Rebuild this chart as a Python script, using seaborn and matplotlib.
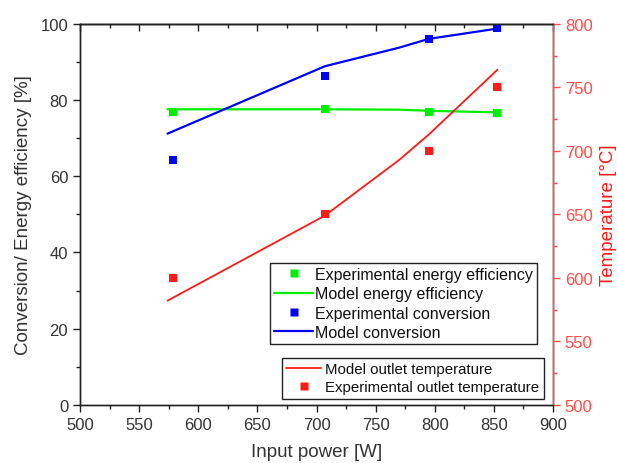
import matplotlib
matplotlib.use("Agg")
import matplotlib.pyplot as plt
from matplotlib.lines import Line2D
from matplotlib.ticker import MultipleLocator
import seaborn as sns
import pandas as pd

# Measured points
power_exp = [579, 707, 795, 853]
eff_exp = [76.8, 77.6, 76.9, 76.7]
conv_exp = [64.3, 86.3, 96.0, 98.9]
temp_exp = [600, 650, 700, 750]

# Model curves
power_model = [574, 707, 770, 795, 853]
eff_model = [77.6, 77.6, 77.5, 77.2, 76.8]
conv_model = [71.2, 88.9, 93.8, 96.1, 98.8]
temp_model = [582, 649, 693, 713, 764]

sns.set_style("ticks")
plt.rcParams["font.family"] = ["Liberation Sans", "DejaVu Sans"]

GREEN = "#00ee00"
BLUE = "#0000ff"
RED = "#ff1a1a"
RIGHT_C = "#ff4d4d"
TXT = "#333333"

exp_df = pd.DataFrame({"power": power_exp, "eff": eff_exp,
                       "conv": conv_exp, "temp": temp_exp})
mod_df = pd.DataFrame({"power": power_model, "eff": eff_model,
                       "conv": conv_model, "temp": temp_model})

fig = plt.figure(figsize=(6.17, 4.64), dpi=100)
ax = fig.add_axes([0.1297, 0.1256, 0.7666, 0.8205])
ax2 = ax.twinx()

sns.lineplot(data=mod_df, x="power", y="eff", ax=ax, color=GREEN, lw=1.6)
sns.lineplot(data=mod_df, x="power", y="conv", ax=ax, color=BLUE, lw=1.6)
sns.scatterplot(data=exp_df, x="power", y="eff", ax=ax, color=GREEN,
                marker="s", s=32, linewidth=0, zorder=4)
sns.scatterplot(data=exp_df, x="power", y="conv", ax=ax, color=BLUE,
                marker="s", s=32, linewidth=0, zorder=4)
sns.lineplot(data=mod_df, x="power", y="temp", ax=ax2, color=RED, lw=1.3)
sns.scatterplot(data=exp_df, x="power", y="temp", ax=ax2, color=RED,
                marker="s", s=32, linewidth=0, zorder=4)

ax.set_xlim(500, 900)
ax.set_ylim(0, 100)
ax2.set_ylim(500, 800)

ax.xaxis.set_major_locator(MultipleLocator(50))
ax.xaxis.set_minor_locator(MultipleLocator(25))
ax.yaxis.set_major_locator(MultipleLocator(20))
ax.yaxis.set_minor_locator(MultipleLocator(10))
ax2.yaxis.set_major_locator(MultipleLocator(50))
ax2.yaxis.set_minor_locator(MultipleLocator(25))

for a in (ax, ax2):
    for sp in a.spines.values():
        sp.set_linewidth(1.0)
        sp.set_color("#222222")
ax2.spines["right"].set_color(RIGHT_C)

ax.tick_params(axis="both", which="major", direction="out", length=5,
               width=1, labelsize=12, labelcolor=TXT, color="#222222")
ax.tick_params(axis="both", which="minor", direction="out", length=3,
               width=1, color="#222222")
ax2.tick_params(axis="y", which="major", direction="out", length=5,
                width=1, labelsize=12, labelcolor=RIGHT_C, color=RIGHT_C)
ax2.tick_params(axis="y", which="minor", direction="out", length=3,
                width=1, color=RIGHT_C)

# inward ticks along the top edge
top = ax.secondary_xaxis("top")
top.xaxis.set_major_locator(MultipleLocator(50))
top.xaxis.set_minor_locator(MultipleLocator(25))
top.tick_params(which="major", direction="in", length=5, width=1,
                labeltop=False, color="#222222")
top.tick_params(which="minor", direction="in", length=3, width=1,
                color="#222222")
top.spines["top"].set_linewidth(1.0)
top.spines["top"].set_color("#222222")

ax.set_xlabel("Input power [W]", fontsize=13.5, color=TXT, labelpad=8)
ax.set_ylabel("Conversion/ Energy efficiency [%]", fontsize=13.5,
              color=TXT, labelpad=6)
ax2.set_ylabel("Temperature [°C]", fontsize=13.5, color=RED, labelpad=5)

h1 = [
    Line2D([], [], ls="none", marker="s", ms=5.5, color=GREEN, mec="none"),
    Line2D([], [], color=GREEN, lw=1.6),
    Line2D([], [], ls="none", marker="s", ms=5.5, color=BLUE, mec="none"),
    Line2D([], [], color=BLUE, lw=1.6),
]
l1 = ["Experimental energy efficiency", "Model energy efficiency",
      "Experimental conversion", "Model conversion"]
leg1 = ax2.legend(h1, l1, loc="upper left", bbox_to_anchor=(0.4376, 0.431),
                  bbox_transform=fig.transFigure, fontsize=11.5, frameon=True,
                  fancybox=False, edgecolor="#222222", framealpha=1,
                  handlelength=2.45, handletextpad=0.1, labelspacing=0.27,
                  borderpad=0.25, borderaxespad=0, labelcolor="#111111")
leg1.get_frame().set_linewidth(1.0)
ax2.add_artist(leg1)

h2 = [
    Line2D([], [], color=RED, lw=1.3),
    Line2D([], [], ls="none", marker="s", ms=5.5, color=RED, mec="none"),
]
l2 = ["Model outlet temperature", "Experimental outlet temperature"]
leg2 = ax2.legend(h2, l2, loc="upper left", bbox_to_anchor=(0.457, 0.2263),
                  bbox_transform=fig.transFigure, fontsize=10.8, frameon=True,
                  fancybox=False, edgecolor="#222222", framealpha=1,
                  handlelength=2.3, handletextpad=0.3, labelspacing=0.25,
                  borderpad=0.3, borderaxespad=0, labelcolor="#111111")
leg2.get_frame().set_linewidth(1.0)

fig.savefig("out.png", dpi=100)
